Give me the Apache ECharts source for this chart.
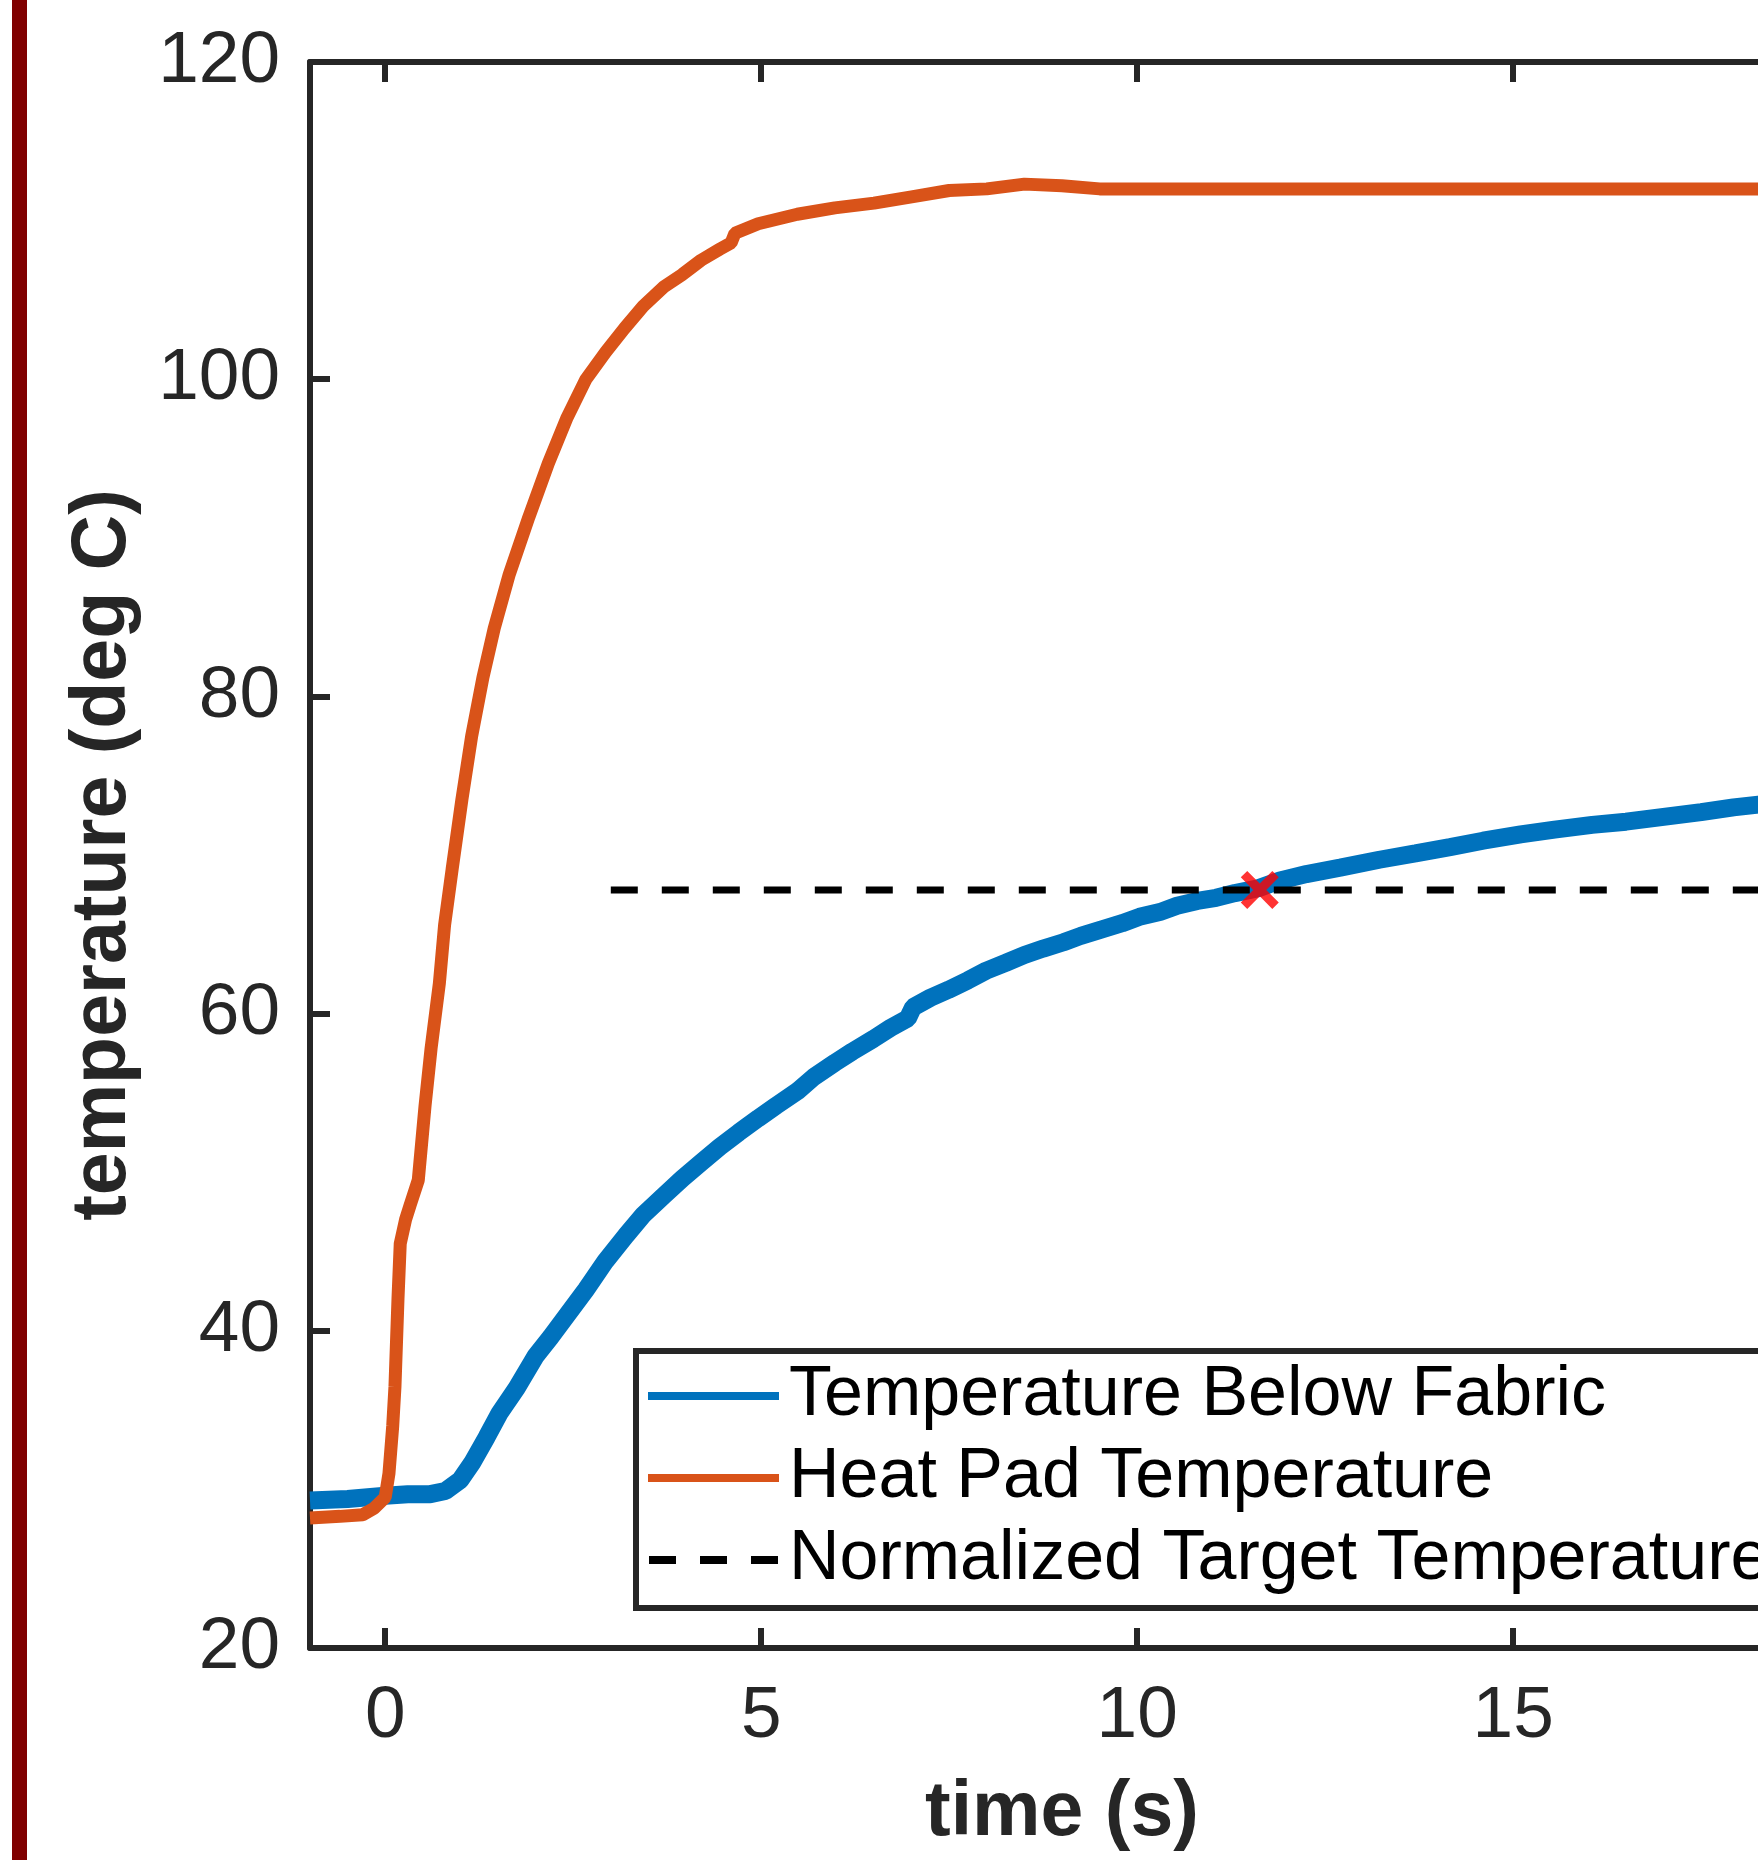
<!DOCTYPE html>
<html>
<head>
<meta charset="utf-8">
<script src="https://cdn.jsdelivr.net/npm/echarts@6/dist/echarts.min.js"></script>
<style>
  html, body { margin: 0; padding: 0; background: #ffffff; overflow: hidden; }
  #chart { width: 1900px; height: 1860px; }
</style>
</head>
<body>
<div id="chart"></div>
<script>
// ---- Data ----
const belowFabricTime = [-1.0, -0.5, 0.0, 0.3, 0.6, 0.8, 1.0, 1.16, 1.35, 1.52, 1.75, 2.0, 2.2, 2.42, 2.67, 2.93, 3.2, 3.43, 3.7, 3.95, 4.2, 4.45, 4.7, 4.96, 5.2, 5.48, 5.7, 5.98, 6.21, 6.49, 6.72, 6.95, 7.02, 7.25, 7.49, 7.75, 7.99, 8.25, 8.5, 8.75, 9.02, 9.25, 9.52, 9.8, 10.03, 10.3, 10.53, 10.8, 11.05, 11.3, 11.61, 11.9, 12.25, 12.7, 13.22, 13.7, 14.16, 14.6, 15.1, 15.55, 16.05, 16.5, 17.0, 17.5, 17.93, 18.5, 19.0];
const belowFabricTemp = [29.3, 29.4, 29.6, 29.7, 29.7, 29.9, 30.6, 31.7, 33.3, 34.8, 36.4, 38.4, 39.6, 41.0, 42.6, 44.4, 46.0, 47.3, 48.5, 49.6, 50.6, 51.6, 52.5, 53.4, 54.2, 55.1, 56.0, 56.9, 57.6, 58.4, 59.1, 59.7, 60.4, 61.0, 61.5, 62.1, 62.7, 63.2, 63.7, 64.1, 64.5, 64.9, 65.3, 65.7, 66.1, 66.4, 66.8, 67.1, 67.3, 67.6, 67.9, 68.4, 68.8, 69.2, 69.7, 70.1, 70.5, 70.9, 71.3, 71.6, 71.9, 72.1, 72.4, 72.7, 73.0, 73.3, 73.5];

const heatPadTime = [-1.0, -0.6, -0.3, -0.15, 0.0, 0.05, 0.1, 0.13, 0.17, 0.2, 0.27, 0.33, 0.44, 0.53, 0.61, 0.72, 0.79, 0.89, 1.02, 1.15, 1.3, 1.45, 1.65, 1.91, 2.17, 2.42, 2.67, 2.93, 3.18, 3.43, 3.7, 3.95, 4.2, 4.45, 4.6, 4.65, 4.96, 5.48, 5.98, 6.5, 7.0, 7.5, 8.0, 8.5, 9.0, 9.5, 10.5, 12.0, 14.0, 16.0, 19.0];
const heatPadTemp = [28.2, 28.3, 28.4, 28.8, 29.5, 31.0, 34.0, 36.5, 42.0, 45.5, 47.0, 47.9, 49.5, 54.2, 57.8, 61.9, 65.6, 69.1, 73.5, 77.5, 81.2, 84.3, 87.7, 91.3, 94.7, 97.6, 100.0, 101.7, 103.2, 104.6, 105.8, 106.6, 107.5, 108.2, 108.6, 109.2, 109.8, 110.4, 110.8, 111.1, 111.5, 111.9, 112.0, 112.3, 112.2, 112.0, 112.0, 112.0, 112.0, 112.0, 112.0];

const targetTime = [3, 19];
const targetTemp = [67.8, 67.8];

const crossTime = [11.63];
const crossTemp = [67.8];

const xTickValues = [0, 5, 10, 15];
const seriesNames = ['Temperature Below Fabric', 'Heat Pad Temperature', 'Normalized Target Temperature'];

// ---- Build ----
function pairs(xs, ys) { return xs.map((x, i) => [x, ys[i]]); }

const FONT = "'Liberation Sans', Arial, Helvetica, sans-serif";
const AXIS_COLOR = '#262626';
const DASH = [27, 24];
const XPATH = 'path://M0,3.4 L3.4,0 L10,6.6 L16.6,0 L20,3.4 L13.4,10 L20,16.6 L16.6,20 L10,13.4 L3.4,20 L0,16.6 L6.6,10 Z';
const DASH_ICON = 'path://M0,0 H27 V8 H0 Z M51,0 H78 V8 H51 Z M102,0 H129 V8 H102 Z';

const chart = echarts.init(document.getElementById('chart'), null, { renderer: 'canvas' });

const xBase = {
  type: 'value', min: -1, max: 19,
  axisLine: { show: true, onZero: false, lineStyle: { color: AXIS_COLOR, width: 6 } },
  axisTick: { show: true, inside: true, length: 20, customValues: xTickValues, lineStyle: { color: AXIS_COLOR, width: 6 } },
  splitLine: { show: false }
};
const yBase = {
  type: 'value', min: 20, max: 120, interval: 20,
  axisLine: { show: true, onZero: false, lineStyle: { color: AXIS_COLOR, width: 6 } },
  axisTick: { show: true, inside: true, length: 20, lineStyle: { color: AXIS_COLOR, width: 6 } },
  splitLine: { show: false }
};

const option = {
  animation: false,
  backgroundColor: '#ffffff',
  textStyle: { fontFamily: FONT },
  grid: { left: 310, top: 62, right: 86, bottom: 212, containLabel: false },
  graphic: [{
    type: 'rect', z: 100,
    shape: { x: 12, y: 0, width: 15, height: 1860 },
    style: { fill: '#800000' }
  }],
  xAxis: [
    Object.assign({}, xBase, {
      position: 'bottom',
      name: 'time (s)', nameLocation: 'middle', nameGap: 127,
      nameTextStyle: { fontFamily: FONT, fontSize: 77, fontWeight: 'bold', color: AXIS_COLOR },
      axisLabel: { show: true, customValues: xTickValues, margin: 32, fontFamily: FONT, fontSize: 73, color: AXIS_COLOR }
    }),
    Object.assign({}, xBase, { position: 'top', axisLabel: { show: false } })
  ],
  yAxis: [
    Object.assign({}, yBase, {
      position: 'left',
      name: 'temperature (deg C)', nameLocation: 'middle', nameGap: 168,
      nameTextStyle: { fontFamily: FONT, fontSize: 77, fontWeight: 'bold', color: AXIS_COLOR },
      axisLabel: { show: true, margin: 30, fontFamily: FONT, fontSize: 73, color: AXIS_COLOR }
    }),
    Object.assign({}, yBase, { position: 'right', axisLabel: { show: false } })
  ],
  legend: {
    data: [
      { name: seriesNames[0], icon: 'rect', itemStyle: { color: '#0072BD' } },
      { name: seriesNames[1], icon: 'rect', itemStyle: { color: '#D95319' } },
      { name: seriesNames[2], icon: DASH_ICON, itemStyle: { color: '#000000' } }
    ],
    orient: 'vertical',
    left: 636, top: 1351,
    padding: [10, 14, 13, 12],
    itemGap: 12,
    itemWidth: 131, itemHeight: 8,
    backgroundColor: '#ffffff',
    borderColor: AXIS_COLOR, borderWidth: 6, borderRadius: 0,
    selectedMode: false,
    textStyle: { fontFamily: FONT, fontSize: 70, lineHeight: 70, color: '#000000', padding: [0, 0, 0, 5] }
  },
  series: [
    {
      name: seriesNames[0], type: 'line', xAxisIndex: 0, yAxisIndex: 0,
      data: pairs(belowFabricTime, belowFabricTemp),
      showSymbol: false, symbol: 'none',
      lineStyle: { color: '#0072BD', width: 18 }, itemStyle: { color: '#0072BD' },
      z: 2
    },
    {
      name: seriesNames[1], type: 'line', xAxisIndex: 0, yAxisIndex: 0,
      data: pairs(heatPadTime, heatPadTemp),
      showSymbol: false, symbol: 'none',
      lineStyle: { color: '#D95319', width: 13 }, itemStyle: { color: '#D95319' },
      z: 3
    },
    {
      name: seriesNames[2], type: 'line', xAxisIndex: 0, yAxisIndex: 0,
      data: pairs(targetTime, targetTemp),
      showSymbol: false, symbol: 'none',
      lineStyle: { color: '#000000', width: 7, type: DASH }, itemStyle: { color: '#000000' },
      z: 4
    },
    {
      name: 'crossing', type: 'scatter', xAxisIndex: 0, yAxisIndex: 0,
      data: pairs(crossTime, crossTemp),
      symbol: XPATH, symbolSize: 38,
      itemStyle: { color: '#FF0000' },
      z: 5
    }
  ]
};
chart.setOption(option);
</script>
</body>
</html>
